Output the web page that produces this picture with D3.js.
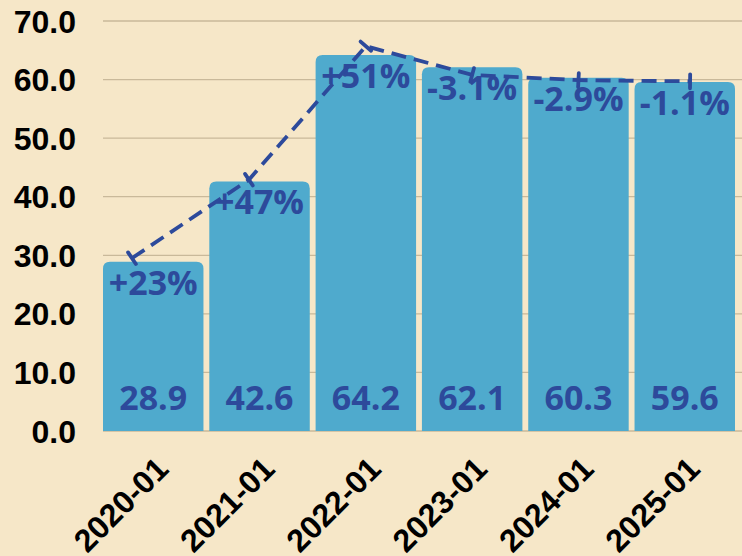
<!DOCTYPE html>
<html>
<head>
<meta charset="utf-8">
<script src="https://cdn.jsdelivr.net/npm/d3@7"></script>
<style>
  html, body { margin: 0; padding: 0; background: #f6e7c8; }
  svg { display: block; }
  .tick-label { font-family: "Liberation Sans", Arial, sans-serif; font-weight: bold; font-size: 32px; fill: #000; }
  .bar-label { font-family: "Open Sans", "Noto Sans", sans-serif; font-weight: bold; font-size: 34px; fill: #2d4a9b; }
</style>
</head>
<body>
<svg id="chart" width="742" height="556"></svg>
<script>
const periods = ["2020-01", "2021-01", "2022-01", "2023-01", "2024-01", "2025-01"];
const values = [28.9, 42.6, 64.2, 62.1, 60.3, 59.6];
const changes = ["+23%", "+47%", "+51%", "-3.1%", "-2.9%", "-1.1%"];
// trend line, positioned in fractional years
const trendYears = [2019.8, 2020.9, 2022.0, 2023.0, 2024.0, 2025.05];
const trendValues = [29.5, 42.9, 65.7, 60.8, 59.9, 59.7];
const yTicks = [0, 10, 20, 30, 40, 50, 60, 70];

const width = 742, height = 556;
const margin = {top: 21, right: 0, bottom: 125, left: 103};
const barColor = "#4faacd";
const labelColor = "#2d4a9b";

const svg = d3.select("#chart");

const x = d3.scaleBand()
    .domain(periods)
    .range([margin.left, 735])
    .paddingInner(0.055)
    .paddingOuter(0);

const y = d3.scaleLinear()
    .domain([0, 70])
    .range([height - margin.bottom, margin.top]);

// year -> pixel, via band centers
const xYear = d3.scaleLinear()
    .domain([2020, 2025])
    .range([x(periods[0]) + x.bandwidth() / 2, x(periods[5]) + x.bandwidth() / 2]);

// grid
svg.append("g")
    .selectAll("line")
    .data(yTicks)
    .enter()
    .append("line")
    .attr("x1", margin.left)
    .attr("x2", width)
    .attr("y1", d => y(d))
    .attr("y2", d => y(d))
    .attr("stroke", "#c9b99a")
    .attr("stroke-width", 1.3);

// y tick labels
svg.append("g")
    .selectAll("text")
    .data(yTicks)
    .enter()
    .append("text")
    .attr("class", "tick-label")
    .attr("x", 76)
    .attr("y", d => y(d))
    .attr("dy", "0.36em")
    .attr("text-anchor", "end")
    .text(d => d.toFixed(1));

// bars with rounded tops
function topRounded(x0, y0, w, h, r) {
    r = Math.min(r, h);
    return `M${x0},${y0 + h}V${y0 + r}Q${x0},${y0} ${x0 + r},${y0}` +
        `H${x0 + w - r}Q${x0 + w},${y0} ${x0 + w},${y0 + r}V${y0 + h}Z`;
}

svg.append("g")
    .selectAll("path")
    .data(values)
    .enter()
    .append("path")
    .attr("d", (d, i) => topRounded(x(periods[i]), y(d), x.bandwidth(), y(0) - y(d), 7))
    .attr("fill", barColor);

// x tick labels
svg.append("g")
    .selectAll("text")
    .data(periods)
    .enter()
    .append("text")
    .attr("class", "tick-label")
    .attr("text-anchor", "end")
    .attr("transform", d => `translate(${x(d) + x.bandwidth() / 2 + 17},${471}) rotate(-45)`)
    .text(d => d);

// value labels
svg.append("g")
    .selectAll("text")
    .data(values)
    .enter()
    .append("text")
    .attr("class", "bar-label")
    .attr("x", (d, i) => x(periods[i]) + x.bandwidth() / 2)
    .attr("y", y(0) - 21)
    .attr("text-anchor", "middle")
    .text(d => d.toFixed(1));

// change labels
svg.append("g")
    .selectAll("text")
    .data(changes)
    .enter()
    .append("text")
    .attr("class", "bar-label")
    .attr("x", (d, i) => x(periods[i]) + x.bandwidth() / 2)
    .attr("y", (d, i) => y(values[i]) + 33)
    .attr("text-anchor", "middle")
    .text(d => d);

// trend line
const pts = trendValues.map((v, i) => [xYear(trendYears[i]), y(v)]);

svg.append("path")
    .attr("d", d3.line()(pts))
    .attr("fill", "none")
    .attr("stroke", labelColor)
    .attr("stroke-width", 3.8)
    .attr("stroke-dasharray", "15,8");

// perpendicular tick markers
svg.append("g")
    .selectAll("line")
    .data(pts)
    .enter()
    .append("line")
    .each(function(p, i) {
        const prev = i === 0 ? p : pts[i - 1];
        const next = i === 0 ? pts[1] : p;
        const dx = next[0] - prev[0], dy = next[1] - prev[1];
        const len = Math.hypot(dx, dy) || 1;
        const nx = -dy / len * 7, ny = dx / len * 7;
        d3.select(this)
            .attr("x1", p[0] - nx).attr("y1", p[1] - ny)
            .attr("x2", p[0] + nx).attr("y2", p[1] + ny);
    })
    .attr("stroke", labelColor)
    .attr("stroke-width", 3.8)
    .attr("stroke-linecap", "round");
</script>
</body>
</html>
